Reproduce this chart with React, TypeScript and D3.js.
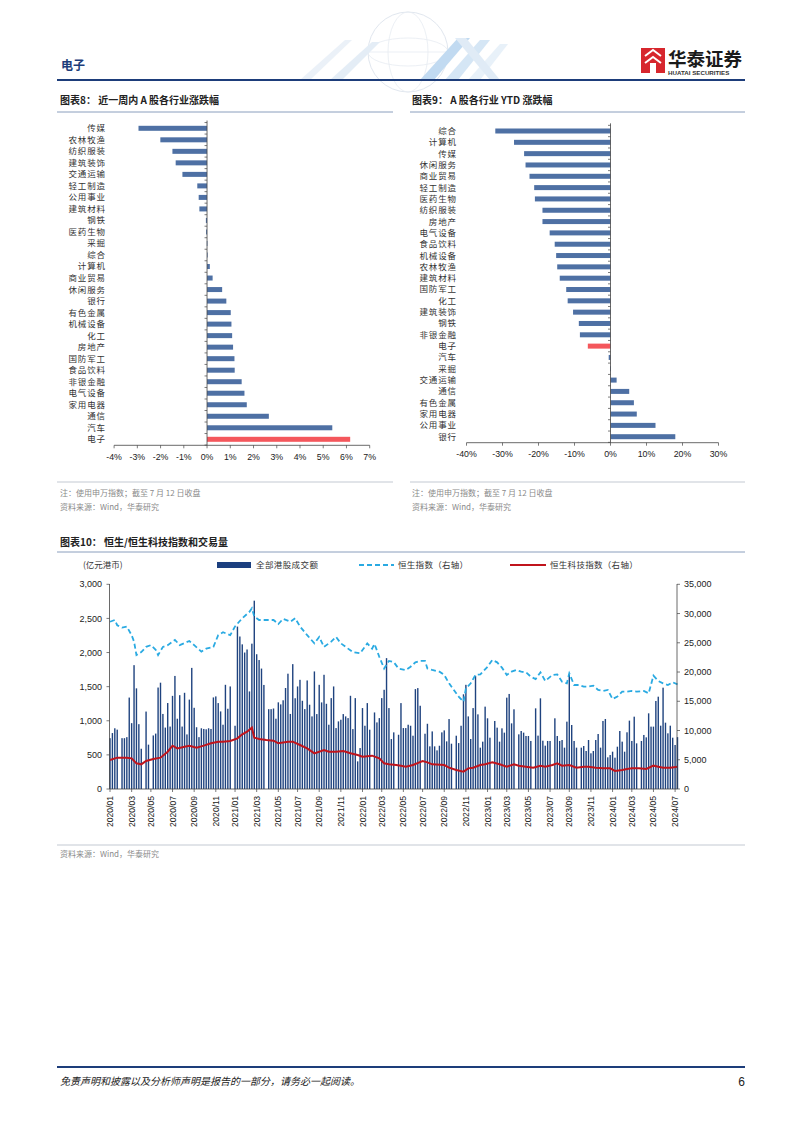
import React from 'react';
import * as d3 from 'd3';

// ---------- Chart 8: weekly change by industry (%) ----------
const c8Cats = ['传媒','农林牧渔','纺织服装','建筑装饰','交通运输','轻工制造','公用事业','建筑材料','钢铁','医药生物','采掘','综合','计算机','商业贸易','休闲服务','银行','有色金属','机械设备','化工','房地产','国防军工','食品饮料','非银金融','电气设备','家用电器','通信','汽车','电子'];
const c8Vals = [-2.95,-2.01,-1.49,-1.35,-1.06,-0.42,-0.36,-0.33,-0.05,-0.04,-0.01,0.01,0.12,0.24,0.65,0.83,1.02,1.05,1.08,1.12,1.18,1.19,1.49,1.61,1.71,2.66,5.39,6.16];
const c8Ticks = [-4,-3,-2,-1,0,1,2,3,4,5,6,7];

// ---------- Chart 9: YTD change by industry (%) ----------
const c9Cats = ['综合','计算机','传媒','休闲服务','商业贸易','轻工制造','医药生物','纺织服装','房地产','电气设备','食品饮料','机械设备','农林牧渔','建筑材料','国防军工','化工','建筑装饰','钢铁','非银金融','电子','汽车','采掘','交通运输','通信','有色金属','家用电器','公用事业','银行'];
const c9Vals = [-32.0,-26.8,-24.0,-23.6,-22.5,-21.2,-21.0,-18.9,-18.9,-16.9,-15.5,-15.1,-14.8,-14.1,-12.3,-11.9,-10.4,-8.8,-8.5,-6.3,-0.5,-0.1,1.7,5.2,6.5,7.3,12.5,18.0];
const c9Ticks = [-40,-30,-20,-10,0,10,20,30];
const highlight = '电子';

// ---------- Chart 10: HK turnover (weekly, 亿元港币) + HSI / HSTECH ----------
const weekStart = new Date(2020, 0, 3);
const hkTurnover = [
  745,820,890,870,0,745,745,760,1340,965,1815,1475,950,590,0,1135,650,0,785,812,1487,1558,1100,900,1260,915,1365,1657,1030,1375,915,1410,800,
  1310,1775,1190,905,760,890,880,875,890,880,1342,1357,1259,1137,942,1527,1176,1503,0,927,
  2380,2235,2120,2000,2045,1430,2130,2760,1975,1890,1765,1525,0,1170,1170,1180,1030,1270,1240,1300,1480,1690,1100,1830,1330,
  1503,1600,1293,1171,1591,1235,1064,1723,1098,1527,1269,1674,1249,942,1332,1503,893,991,1015,1098,1064,1039,1366,878,1332,405,600,1186,927,1259,869,0,1122,976,1039,1332,1454,1918,1186,732,830,0,795,
  1259,893,893,942,927,781,1464,1479,1220,0,810,956,625,844,625,566,634,830,859,698,1025,664,0,781,673,927,1388,1527,1064,733,1186,1659,
  1094,606,694,1207,1036,752,0,997,899,694,889,826,1339,1393,962,1168,0,801,850,826,777,777,704,0,1182,782,1329,708,635,704,704,0,1036,777,704,718,606,987,1681,938,704,606,0,606,630,557,718,523,557,718,806,606,997,1026,464,498,547,459,620,850,694,547,831,1002,704,1060,669,0,704,792,757,1109,914,914,1290,1353,928,1485,972,816,928,752,645,760
];
// [week number since 2020-01-03, index level]
const hsi: [number, number][] = [[0,28600],[2,28900],[3,28000],[5,27600],[7,27760],[9,26300],[10,25200],[11,22900],[13,23400],[15,24300],[17,24600],[19,23800],[20,22900],[22,24300],[24,24600],[27,25500],[29,24600],[33,25300],[35,24600],[38,23500],[40,24000],[43,24300],[45,26300],[47,26800],[50,26300],[52,27800],[55,29200],[58,30300],[59,30900],[60,29500],[62,28900],[65,28900],[68,28900],[70,28200],[72,29100],[75,28600],[77,29200],[79,27800],[82,26300],[85,24900],[87,26000],[89,24300],[92,25200],[94,26000],[96,24900],[98,24300],[101,23400],[104,23200],[107,24900],[109,24000],[110,24800],[112,22600],[114,20600],[116,21900],[118,21700],[120,20600],[123,20350],[125,20900],[127,21660],[129,21900],[131,21900],[132,20600],[134,20350],[137,20060],[139,19500],[141,18070],[143,16930],[145,15800],[147,14930],[148,17200],[150,18070],[152,19500],[154,19600],[157,20900],[159,22060],[161,21660],[163,20750],[165,19500],[167,20060],[169,20350],[171,20060],[173,19950],[175,19200],[177,18800],[179,19950],[181,18470],[184,19500],[186,19600],[188,18350],[190,18070],[191,19780],[193,17780],[195,17780],[197,17500],[199,17500],[201,17670],[203,16930],[205,16760],[207,16930],[209,15390],[211,15800],[213,16640],[215,16640],[217,16760],[219,16640],[222,16760],[224,16360],[226,19380],[228,18470],[230,18070],[232,17780],[234,18240],[236,17900]];
const hstech: [number, number][] = [[0,4960],[3,5360],[7,5360],[9,5240],[11,4390],[13,4220],[15,4790],[18,5130],[21,5360],[24,6380],[26,7410],[28,6950],[31,7240],[33,7410],[36,7070],[39,7410],[42,7810],[45,8090],[47,8090],[50,8200],[53,8660],[55,9350],[57,9800],[59,10490],[60,8780],[62,8550],[65,8380],[68,8270],[70,7810],[74,8090],[76,8090],[79,7520],[82,6950],[85,6100],[89,6670],[91,6380],[94,6380],[97,6500],[100,6100],[103,5810],[105,5530],[109,5700],[112,5240],[114,4390],[116,4220],[119,4100],[121,3990],[123,3820],[126,4100],[130,4790],[132,4560],[134,4220],[139,4100],[141,3650],[144,3250],[147,2960],[149,3530],[151,3650],[154,4100],[156,4220],[159,4560],[162,4220],[165,3820],[168,4220],[170,3990],[173,3820],[176,3650],[179,3990],[181,3820],[184,4100],[186,4390],[188,3990],[191,4100],[194,3650],[197,3820],[199,3820],[202,3650],[205,3530],[208,3530],[210,3080],[213,3250],[215,3420],[217,3530],[220,3530],[223,3420],[226,3990],[228,3820],[230,3650],[233,3650],[236,3820]];
const leftTicks = [0,500,1000,1500,2000,2500,3000];
const rightTicks = [0,5000,10000,15000,20000,25000,30000,35000];

const CJK = '"Noto Sans CJK SC", sans-serif';
const NUM = '"Liberation Sans", Arial, sans-serif';
const NAVY = '#1d3d7a';
const BAR = '#4e70a4';
const RED = '#f4575c';

function HBarChart({ cats, vals, ticks, domain, xRange, yRange, labelRight, axisY, tickY, fmt }: any) {
  const x = d3.scaleLinear().domain(domain).range(xRange);
  const y = d3.scalePoint<string>().domain(cats).range(yRange);
  const step = y.step();
  const x0 = x(0);
  const barH = 5;
  return (
    <g>
      {cats.map((c: string, i: number) => {
        const v = vals[i];
        const yy = y(c) as number;
        return (
          <g key={c}>
            <rect x={Math.min(x(v), x0)} y={yy - barH / 2} width={Math.max(0.6, Math.abs(x(v) - x0))} height={barH}
              fill={c === highlight ? RED : BAR} />
            <text x={labelRight} y={yy} dy="0.35em" textAnchor="end" fontSize={8.5} letterSpacing={0.9}
              fontFamily={CJK} fill="#333">{c}</text>
          </g>
        );
      })}
      <line x1={x0} x2={x0} y1={yRange[0] - step / 2 - 2} y2={axisY} stroke="#444" strokeWidth={0.8} />
      {d3.range(cats.length + 1).map((k) => (
        <line key={k} x1={x0 - 2.5} x2={x0} y1={yRange[0] - step / 2 + k * step} y2={yRange[0] - step / 2 + k * step}
          stroke="#444" strokeWidth={0.7} />
      ))}
      <line x1={x(domain[0])} x2={x(domain[1])} y1={axisY} y2={axisY} stroke="#444" strokeWidth={0.8} />
      {ticks.map((t: number) => (
        <g key={t}>
          <line x1={x(t)} x2={x(t)} y1={axisY} y2={axisY + 3} stroke="#444" strokeWidth={0.7} />
          <text x={x(t)} y={tickY} dy="0.35em" textAnchor="middle" fontSize={8.8} fontFamily={NUM} fill="#222">{fmt(t)}</text>
        </g>
      ))}
    </g>
  );
}

function Chart10() {
  const n = hkTurnover.length;
  const x = d3.scaleLinear().domain([0, n - 1]).range([110, 677.5]);
  const yL = d3.scaleLinear().domain([0, 3000]).range([789, 584.3]);
  const yR = d3.scaleLinear().domain([0, 35000]).range([789, 584.3]);
  const dates = d3.range(n).map((i) => d3.timeDay.offset(weekStart, 7 * i));
  const fmtDate = d3.timeFormat('%Y/%m');
  const tickIdx: number[] = [];
  dates.forEach((d, i) => {
    const prev = i > 0 ? dates[i - 1] : null;
    if ((!prev || prev.getMonth() !== d.getMonth()) && d.getMonth() % 2 === 0) tickIdx.push(i);
  });
  const line = d3.line<[number, number]>().x((d) => x(d[0])).y((d) => yR(d[1]));
  const fmtN = d3.format(',');
  return (
    <g>
      {hkTurnover.map((v, i) => v > 0 ? (
        <rect key={i} x={x(i) - 0.7} y={yL(v)} width={1.4} height={yL(0) - yL(v)} fill="#1f437f" />
      ) : null)}
      <path d={line(hsi) || ''} fill="none" stroke="#2aaae2" strokeWidth={1.8} strokeDasharray="5 3" />
      <path d={line(hstech) || ''} fill="none" stroke="#c0141c" strokeWidth={2} />
      {/* axes */}
      <line x1={109.5} x2={109.5} y1={584} y2={789} stroke="#444" strokeWidth={0.8} />
      <line x1={677} x2={677} y1={584} y2={789} stroke="#444" strokeWidth={0.8} />
      <line x1={109.5} x2={677} y1={789} y2={789} stroke="#444" strokeWidth={0.8} />
      {leftTicks.map((t) => (
        <g key={t}>
          <line x1={106.5} x2={109.5} y1={yL(t)} y2={yL(t)} stroke="#444" strokeWidth={0.7} />
          <text x={102} y={yL(t)} dy="0.35em" textAnchor="end" fontSize={9} fontFamily={NUM} fill="#222">{fmtN(t)}</text>
        </g>
      ))}
      {rightTicks.map((t) => (
        <g key={t}>
          <line x1={677} x2={680} y1={yR(t)} y2={yR(t)} stroke="#444" strokeWidth={0.7} />
          <text x={684} y={yR(t)} dy="0.35em" textAnchor="start" fontSize={9} fontFamily={NUM} fill="#222">{fmtN(t)}</text>
        </g>
      ))}
      {tickIdx.map((i) => (
        <g key={i}>
          <line x1={x(i)} x2={x(i)} y1={789} y2={792} stroke="#444" strokeWidth={0.7} />
          <text transform={`translate(${x(i)},${796}) rotate(-90)`} dy="0.35em" textAnchor="end" fontSize={8.6}
            fontFamily={NUM} fill="#222">{fmtDate(dates[i])}</text>
        </g>
      ))}
      {/* legend */}
      <text x={83} y={568} fontSize={8.5} fontFamily={CJK} fill="#333">(亿元港币)</text>
      <rect x={217} y={562} width={34} height={6} fill="#1c3f7f" />
      <text x={256} y={568} fontSize={8.5} letterSpacing={0.4} fontFamily={CJK} fill="#333">全部港股成交额</text>
      <line x1={359} x2={394} y1={565} y2={565} stroke="#2aaae2" strokeWidth={1.8} strokeDasharray="5 3" />
      <text x={398} y={568} fontSize={8.5} letterSpacing={0.3} fontFamily={CJK} fill="#333">恒生指数（右轴）</text>
      <line x1={510} x2={546} y1={565} y2={565} stroke="#c0141c" strokeWidth={2} />
      <text x={550} y={568} fontSize={8.5} letterSpacing={0.3} fontFamily={CJK} fill="#333">恒生科技指数（右轴）</text>
    </g>
  );
}

function Header() {
  return (
    <g>
      {/* faint globe decoration */}
      <g opacity={0.55}>
        <circle cx={408} cy={52} r={40} fill="none" stroke="#c9d4e2" strokeWidth={1} />
        <ellipse cx={408} cy={52} rx={20} ry={40} fill="none" stroke="#d4dde8" strokeWidth={0.8} />
        <ellipse cx={408} cy={52} rx={40} ry={14} fill="none" stroke="#d4dde8" strokeWidth={0.8} />
        <line x1={368} x2={448} y1={52} y2={52} stroke="#d4dde8" strokeWidth={0.8} />
        <path d="M300 80 L345 40 L352 40 L310 80 Z" fill="#dbe7f3" />
        <path d="M330 80 L372 42 L380 42 L342 80 Z" fill="#cfe0f0" />
        <path d="M420 80 L458 38 L470 38 L434 80 Z" fill="#8fbde6" />
        <path d="M445 80 L480 40 L490 40 L458 80 Z" fill="#b3d2ee" />
        <path d="M468 80 L500 44 L508 44 L480 80 Z" fill="#d6e6f5" />
        <path d="M455 38 L490 80 L500 80 L466 38 Z" fill="#c7dcf0" />
      </g>
      <text x={61} y={70} fontSize={12} fontWeight="bold" fontFamily={CJK} fill={NAVY}>电子</text>
      {/* logo */}
      <rect x={641} y={48} width={24} height={25} fill="#d7262d" />
      <path d="M645 56 L653 50 L661 56 M645 63 L653 57 L661 63" fill="none" stroke="#fff" strokeWidth={2} />
      <rect x={650} y={63} width={6} height={10} fill="#fff" />
      <text x={668} y={66} fontSize={18.5} fontWeight="bold" fontFamily={CJK} fill="#1a1a1a">华泰证券</text>
      <text x={668} y={75} fontSize={6.2} fontWeight="bold" fontFamily={NUM} fill="#333">HUATAI SECURITIES</text>
      <line x1={57} x2={745} y1={80} y2={80} stroke={NAVY} strokeWidth={2} />
    </g>
  );
}

export default function App() {
  return (
    <svg width={802} height={1133} viewBox="0 0 802 1133"
      style={{ position: 'absolute', left: 0, top: 0, background: '#fff' }}>
      <rect x={0} y={0} width={802} height={1133} fill="#fff" />
      <Header />

      {/* titles */}
      <text x={60} y={104} fontSize={10} fontWeight="bold" fontFamily={CJK} fill="#222">图表8：  近一周内 A 股各行业涨跌幅</text>
      <line x1={57} x2={393} y1={112} y2={112} stroke="#8a9ebd" strokeWidth={1} />
      <text x={412} y={104} fontSize={10} fontWeight="bold" fontFamily={CJK} fill="#222">图表9：  A 股各行业 YTD 涨跌幅</text>
      <line x1={410} x2={745} y1={112} y2={112} stroke="#8a9ebd" strokeWidth={1} />

      <HBarChart cats={c8Cats} vals={c8Vals} ticks={c8Ticks} domain={[-4, 7]} xRange={[114.1, 369.7]}
        yRange={[128.3, 439.3]} labelRight={106} axisY={445.3} tickY={457} fmt={(t: number) => `${t}%`} />
      <HBarChart cats={c9Cats} vals={c9Vals} ticks={c9Ticks} domain={[-40, 30]} xRange={[466.5, 718.5]}
        yRange={[131, 436.7]} labelRight={457} axisY={442.7} tickY={453.5} fmt={(t: number) => `${t}%`} />

      {/* notes */}
      <line x1={57} x2={393} y1={482} y2={482} stroke="#c3c9d2" strokeWidth={1} />
      <line x1={410} x2={745} y1={482} y2={482} stroke="#c3c9d2" strokeWidth={1} />
      <text x={60} y={496} fontSize={8} fontFamily={CJK} fill="#8a8a8a">注：使用申万指数；截至 7 月 12 日收盘</text>
      <text x={60} y={510} fontSize={8} fontFamily={CJK} fill="#8a8a8a">资料来源：Wind，华泰研究</text>
      <text x={412} y={496} fontSize={8} fontFamily={CJK} fill="#8a8a8a">注：使用申万指数；截至 7 月 12 日收盘</text>
      <text x={412} y={510} fontSize={8} fontFamily={CJK} fill="#8a8a8a">资料来源：Wind，华泰研究</text>

      {/* chart 10 */}
      <text x={60} y={546} fontSize={10} fontWeight="bold" fontFamily={CJK} fill="#222">图表10：  恒生/恒生科技指数和交易量</text>
      <line x1={57} x2={745} y1={552} y2={552} stroke="#8a9ebd" strokeWidth={1} />
      <Chart10 />
      <line x1={57} x2={745} y1={845} y2={845} stroke="#c3c9d2" strokeWidth={1} />
      <text x={60} y={857} fontSize={8} fontFamily={CJK} fill="#8a8a8a">资料来源：Wind，华泰研究</text>

      {/* footer */}
      <line x1={57} x2={745} y1={1067} y2={1067} stroke={NAVY} strokeWidth={2} />
      <text x={60} y={1085} fontSize={10} fontStyle="italic" fontFamily={CJK} fill="#222"
        transform="skewX(0)">免责声明和披露以及分析师声明是报告的一部分，请务必一起阅读。</text>
      <text x={745} y={1086} fontSize={12} textAnchor="end" fontFamily={NUM} fill="#222">6</text>
    </svg>
  );
}
